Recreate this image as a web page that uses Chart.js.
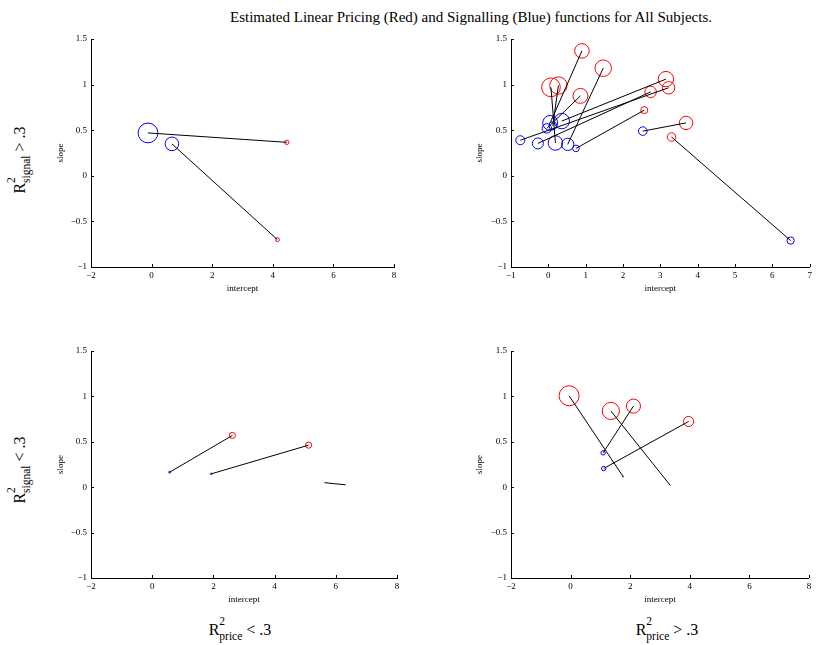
<!DOCTYPE html>
<html>
<head>
<meta charset="utf-8">
<script src="https://cdn.jsdelivr.net/npm/chart.js@4.4.0/dist/chart.umd.min.js"></script>
<style>
body { margin: 0; background: #fff; font-family: "Liberation Serif", "Times New Roman", serif; }
#page { position: relative; width: 820px; height: 645px; overflow: hidden; }
.panel { position: absolute; }
#title { position: absolute; left: 471px; top: 10px; transform: translateX(-50%); font-size: 15px; line-height: 1; white-space: nowrap; }
.lab { position: absolute; font-size: 16px; line-height: 1; white-space: nowrap; }
.ss { position: relative; display: inline-block; }
.ss .up { position: absolute; left: 0; top: -0.5em; font-size: 0.72em; }
.ss .dn { position: relative; top: 0.42em; font-size: 0.72em; }
.col { transform: translateX(-50%); }
.row { transform: translate(-50%, -50%) rotate(-90deg); }
</style>
</head>
<body>
<div id="page">
  <div id="title">Estimated Linear Pricing (Red) and Signalling (Blue) functions for All Subjects.</div>
  <div class="panel" id="p1" style="left:55px;top:28px"><canvas id="c1" width="350" height="266"></canvas></div>
  <div class="panel" id="p2" style="left:474px;top:28px"><canvas id="c2" width="346" height="266"></canvas></div>
  <div class="panel" id="p3" style="left:55px;top:340px"><canvas id="c3" width="350" height="265"></canvas></div>
  <div class="panel" id="p4" style="left:474px;top:340px"><canvas id="c4" width="346" height="265"></canvas></div>
  <div class="lab row" style="left:20px;top:160px">R<span class="ss"><span class="up">2</span><span class="dn">signal</span></span> &gt; .3</div>
  <div class="lab row" style="left:20px;top:470px">R<span class="ss"><span class="up">2</span><span class="dn">signal</span></span> &lt; .3</div>
  <div class="lab col" style="left:240px;top:622px">R<span class="ss"><span class="up">2</span><span class="dn">price</span></span> &lt; .3</div>
  <div class="lab col" style="left:667px;top:622px">R<span class="ss"><span class="up">2</span><span class="dn">price</span></span> &gt; .3</div>
</div>
<script>
// each pair: blue (signalling) estimate i is joined to red (pricing) estimate i
// weights set the circle size

// top left: R2 signal > .3, R2 price < .3
const p1BlueX = [-0.12, 0.67];
const p1BlueY = [0.47, 0.35];
const p1BlueW = [0.9, 0.62];
const p1RedX = [4.46, 4.15];
const p1RedY = [0.367, -0.70];
const p1RedW = [0.2, 0.18];

// top right: R2 signal > .3, R2 price > .3
const p2BlueX = [6.49, 2.53, 0.74, 0.52, -0.75, -0.28, 0.36, 0.19, 0.05, -0.04, 0.12];
const p2BlueY = [-0.71, 0.49, 0.30, 0.345, 0.39, 0.355, 0.60, 0.36, 0.58, 0.52, 0.55];
const p2BlueW = [0.33, 0.39, 0.3, 0.56, 0.41, 0.5, 0.7, 0.66, 0.68, 0.43, 0.36];
const p2RedX = [3.30, 3.69, 2.57, 1.47, 3.22, 2.74, 3.15, 0.07, 0.90, 0.86, 0.27];
const p2RedY = [0.425, 0.58, 0.72, 1.18, 0.965, 0.92, 1.06, 0.97, 1.37, 0.876, 0.99];
const p2RedW = [0.39, 0.61, 0.32, 0.75, 0.57, 0.52, 0.7, 0.85, 0.66, 0.68, 0.79];

// bottom left: R2 signal < .3, R2 price < .3
const p3BlueX = [0.57, 1.93, 5.63];
const p3BlueY = [0.165, 0.147, 0.05];
const p3BlueW = [0.09, 0.07, 0];
const p3RedX = [2.62, 5.11, 6.32];
const p3RedY = [0.57, 0.463, 0.026];
const p3RedW = [0.28, 0.28, 0];

// bottom right: R2 signal < .3, R2 price > .3
const p4BlueX = [1.76, 3.35, 1.09, 1.11];
const p4BlueY = [0.118, 0.018, 0.378, 0.206];
const p4BlueW = [0.04, 0, 0.2, 0.2];
const p4RedX = [-0.05, 1.35, 2.11, 3.96];
const p4RedY = [1.007, 0.84, 0.893, 0.724];
const p4RedW = [0.91, 0.78, 0.64, 0.46];

const xTicksWide = [-2, 0, 2, 4, 6, 8];
const xTicksTopRight = [-1, 0, 1, 2, 3, 4, 5, 6, 7];
const yTicks = [-1, -0.5, 0, 0.5, 1, 1.5];

const RMAX = 11;
const FONT = "'Liberation Serif', 'Times New Roman', serif";

// MATLAB style ticks pointing into the plot
const inwardTicks = {
  id: 'inwardTicks',
  afterDraw(chart) {
    const { ctx, chartArea, scales } = chart;
    ctx.save();
    ctx.strokeStyle = '#000';
    ctx.lineWidth = 1;
    ctx.beginPath();
    scales.x.ticks.forEach(t => {
      const px = Math.round(scales.x.getPixelForValue(t.value)) + 0.5;
      ctx.moveTo(px, chartArea.bottom);
      ctx.lineTo(px, chartArea.bottom - 3);
    });
    scales.y.ticks.forEach(t => {
      const py = Math.round(scales.y.getPixelForValue(t.value)) + 0.5;
      ctx.moveTo(chartArea.left, py);
      ctx.lineTo(chartArea.left + 3, py);
    });
    ctx.stroke();
    ctx.restore();
  }
};

function fmt(v) {
  return v < 0 ? '\u2212' + Math.abs(v) : String(v);
}

function points(xs, ys) {
  return xs.map((x, i) => ({ x: x, y: ys[i] }));
}

function makePanel(canvasId, bx, by, bw, rx, ry, rw, xTicks, box) {
  const datasets = [];
  bx.forEach((x, i) => {
    datasets.push({
      data: [{ x: x, y: by[i] }, { x: rx[i], y: ry[i] }],
      showLine: true,
      borderColor: '#000',
      borderWidth: 1,
      pointRadius: 0
    });
  });
  datasets.push({
    data: points(rx, ry),
    pointRadius: rw.map(w => w * RMAX),
    pointBorderColor: '#ff0000',
    pointBackgroundColor: 'rgba(0,0,0,0)',
    pointBorderWidth: 1
  });
  datasets.push({
    data: points(bx, by),
    pointRadius: bw.map(w => w * RMAX),
    pointBorderColor: '#0000ff',
    pointBackgroundColor: 'rgba(0,0,0,0)',
    pointBorderWidth: 1
  });

  const tickFont = { family: FONT, size: 9 };
  return new Chart(document.getElementById(canvasId), {
    type: 'scatter',
    data: { datasets: datasets },
    options: {
      responsive: false,
      animation: false,
      events: [],
      layout: { padding: { top: box.top, right: box.right, left: 0, bottom: 0 } },
      plugins: { legend: { display: false }, tooltip: { enabled: false } },
      scales: {
        x: {
          type: 'linear',
          min: xTicks[0],
          max: xTicks[xTicks.length - 1],
          afterBuildTicks: s => { s.ticks = xTicks.map(v => ({ value: v })); },
          afterFit: s => { s.height = box.xh; },
          grid: { display: false, drawTicks: false },
          border: { display: true, color: '#000', width: 1 },
          ticks: { color: '#000', font: tickFont, padding: 3, maxRotation: 0, callback: fmt },
          title: { display: true, text: 'intercept', color: '#000', font: tickFont, padding: 0 }
        },
        y: {
          type: 'linear',
          min: -1,
          max: 1.5,
          afterBuildTicks: s => { s.ticks = yTicks.map(v => ({ value: v })); },
          afterFit: s => { s.width = box.yw; },
          grid: { display: false, drawTicks: false },
          border: { display: true, color: '#000', width: 1 },
          ticks: { color: '#000', font: tickFont, padding: 4, callback: fmt },
          title: { display: true, text: 'slope', color: '#000', font: tickFont, padding: 0 }
        }
      }
    },
    plugins: [inwardTicks]
  });
}

makePanel('c1', p1BlueX, p1BlueY, p1BlueW, p1RedX, p1RedY, p1RedW, xTicksWide, { top: 11, right: 8, yw: 36, xh: 27 });
makePanel('c2', p2BlueX, p2BlueY, p2BlueW, p2RedX, p2RedY, p2RedW, xTicksTopRight, { top: 11, right: 3, yw: 37, xh: 27 });
makePanel('c3', p3BlueX, p3BlueY, p3BlueW, p3RedX, p3RedY, p3RedW, xTicksWide, { top: 11, right: 8, yw: 36, xh: 27 });
makePanel('c4', p4BlueX, p4BlueY, p4BlueW, p4RedX, p4RedY, p4RedW, xTicksWide, { top: 11, right: 4, yw: 37, xh: 27 });
</script>
</body>
</html>
